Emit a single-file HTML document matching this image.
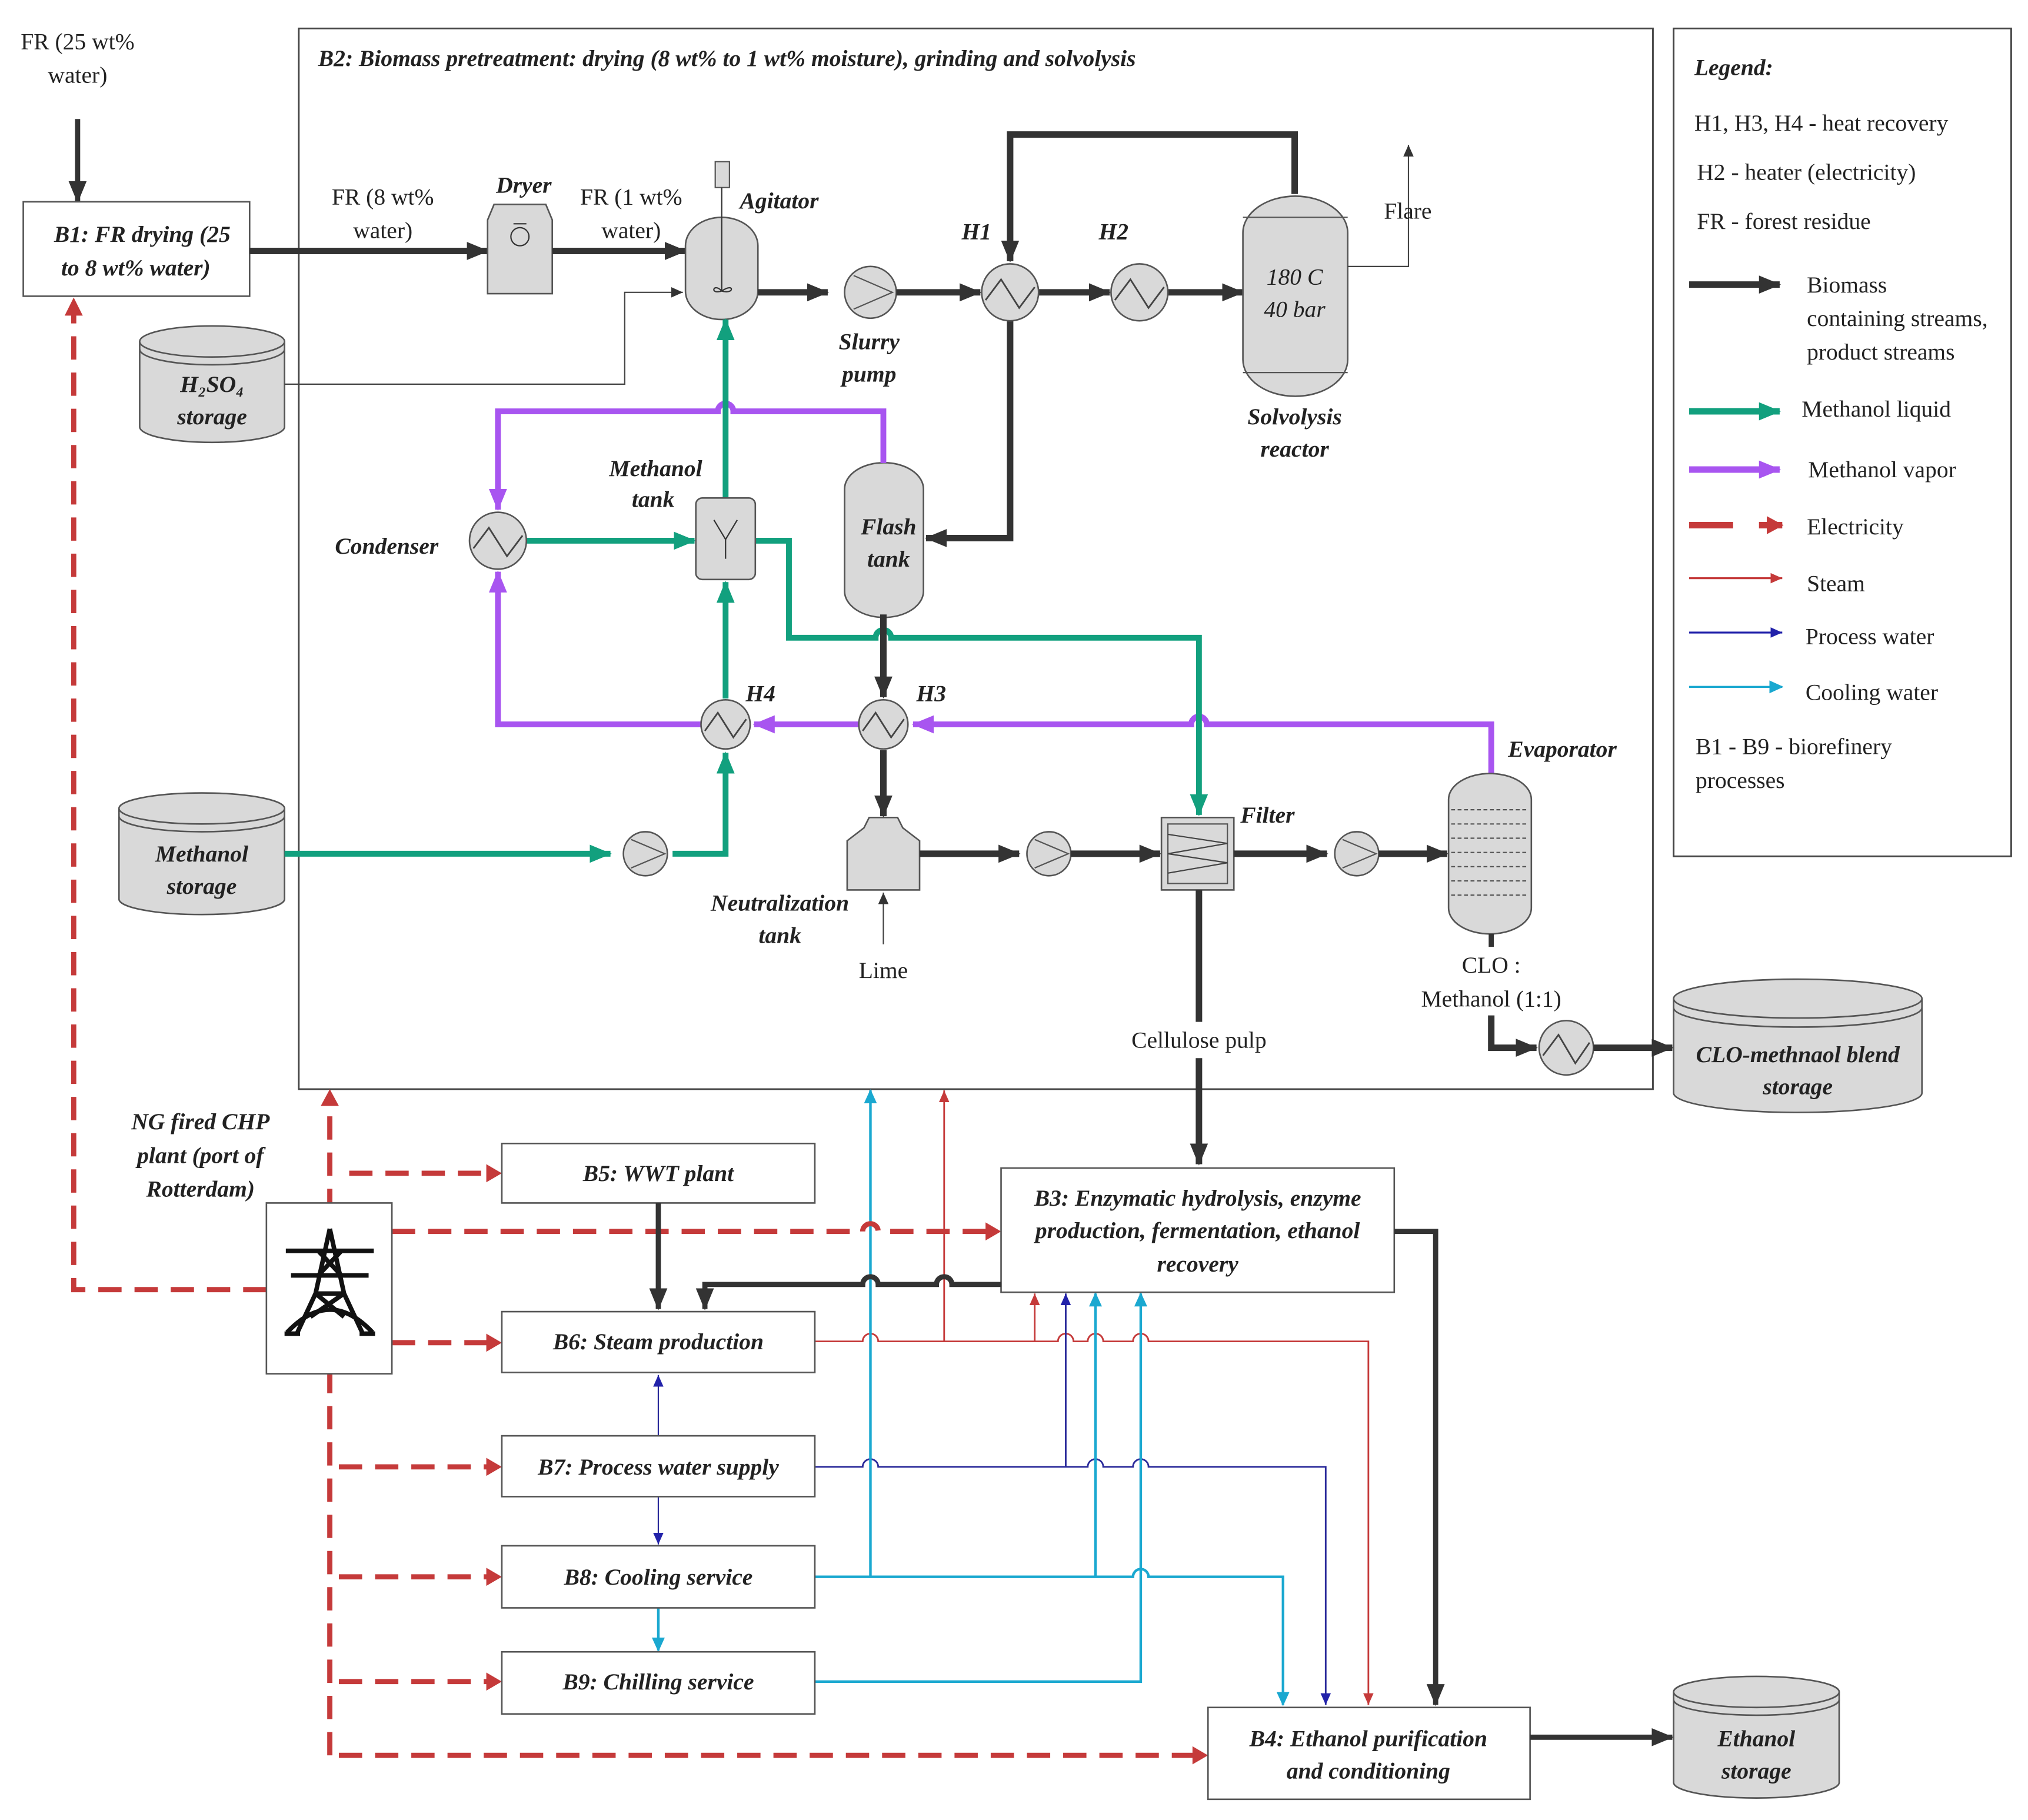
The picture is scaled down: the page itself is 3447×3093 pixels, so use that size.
<!DOCTYPE html>
<html><head><meta charset="utf-8">
<style>
html,body{margin:0;padding:0;background:#fff}
svg{display:block}
svg text{font-family:"Liberation Serif","DejaVu Serif",serif;fill:#222}
.l{font-style:italic;font-weight:bold;font-size:18px;font-family:"Liberation Serif","DejaVu Serif",serif}
.n{font-size:18px;font-family:"Liberation Serif","DejaVu Serif",serif}
</style></head><body>
<svg width="3447" height="3093" viewBox="0 0 1568 1407" preserveAspectRatio="none" xmlns="http://www.w3.org/2000/svg" font-family="Liberation Serif, DejaVu Serif, serif">
<defs>
<marker id="ak" markerUnits="userSpaceOnUse" markerWidth="18" markerHeight="16" refX="16" refY="8" orient="auto"><path d="M0,1 L17,8 L0,15 Z" fill="#333"/></marker>
<marker id="ag" markerUnits="userSpaceOnUse" markerWidth="18" markerHeight="16" refX="16" refY="8" orient="auto"><path d="M0,1 L17,8 L0,15 Z" fill="#12a07e"/></marker>
<marker id="ap" markerUnits="userSpaceOnUse" markerWidth="18" markerHeight="16" refX="16" refY="8" orient="auto"><path d="M0,1 L17,8 L0,15 Z" fill="#a855f0"/></marker>
<marker id="ar" markerUnits="userSpaceOnUse" markerWidth="14" markerHeight="14" refX="12" refY="7" orient="auto"><path d="M0,0 L13,7 L0,14 Z" fill="#c53a3a"/></marker>
<marker id="as" markerUnits="userSpaceOnUse" markerWidth="10" markerHeight="10" refX="9" refY="5" orient="auto"><path d="M0,1 L9,5 L0,9 Z" fill="#c53a3a"/></marker>
<marker id="ab" markerUnits="userSpaceOnUse" markerWidth="10" markerHeight="10" refX="9" refY="5" orient="auto"><path d="M0,1 L9,5 L0,9 Z" fill="#2222aa"/></marker>
<marker id="ac" markerUnits="userSpaceOnUse" markerWidth="12" markerHeight="12" refX="10" refY="6" orient="auto"><path d="M0,1 L11,6 L0,11 Z" fill="#1aa8d0"/></marker>
<marker id="at" markerUnits="userSpaceOnUse" markerWidth="10" markerHeight="10" refX="9" refY="5" orient="auto"><path d="M0,1 L9,5 L0,9 Z" fill="#333"/></marker>
</defs>

<rect x="231" y="22" width="1047" height="820" fill="none" stroke="#444" stroke-width="1.3"/>
<rect x="1294" y="22" width="261" height="640" fill="none" stroke="#444" stroke-width="1.3"/>
<text class="l" x="246" y="51" font-size="17">B2: Biomass pretreatment: drying (8 wt% to 1 wt% moisture), grinding and solvolysis</text>

<text class="l" x="1310" y="58">Legend:</text>
<text class="n" x="1310" y="101">H1, H3, H4 - heat recovery</text>
<text class="n" x="1312" y="139">H2 - heater (electricity)</text>
<text class="n" x="1312" y="177">FR - forest residue</text>
<line x1="1306" y1="220" x2="1376" y2="220" stroke="#333" stroke-width="5" marker-end="url(#ak)"/>
<text class="n" x="1397" y="226">Biomass</text>
<text class="n" x="1397" y="252">containing streams,</text>
<text class="n" x="1397" y="278">product streams</text>
<line x1="1306" y1="318" x2="1376" y2="318" stroke="#12a07e" stroke-width="5" marker-end="url(#ag)"/>
<text class="n" x="1393" y="322">Methanol liquid</text>
<line x1="1306" y1="363" x2="1376" y2="363" stroke="#a855f0" stroke-width="5" marker-end="url(#ap)"/>
<text class="n" x="1398" y="369">Methanol vapor</text>
<line x1="1306" y1="406" x2="1340" y2="406" stroke="#c53a3a" stroke-width="5"/>
<line x1="1360" y1="406" x2="1378" y2="406" stroke="#c53a3a" stroke-width="5" marker-end="url(#ar)"/>
<text class="n" x="1397" y="413">Electricity</text>
<line x1="1306" y1="447" x2="1378" y2="447" stroke="#c53a3a" stroke-width="1.5" marker-end="url(#as)"/>
<text class="n" x="1397" y="457">Steam</text>
<line x1="1306" y1="489" x2="1378" y2="489" stroke="#2222aa" stroke-width="1.5" marker-end="url(#ab)"/>
<text class="n" x="1396" y="498">Process water</text>
<line x1="1306" y1="531" x2="1378" y2="531" stroke="#1aa8d0" stroke-width="1.5" marker-end="url(#ac)"/>
<text class="n" x="1396" y="541">Cooling water</text>
<text class="n" x="1311" y="583">B1 - B9 - biorefinery</text>
<text class="n" x="1311" y="609">processes</text>

<text class="n" x="60" y="38" text-anchor="middle">FR (25 wt%</text>
<text class="n" x="60" y="64" text-anchor="middle">water)</text>
<line x1="60" y1="92" x2="60" y2="156" stroke="#333" stroke-width="4" marker-end="url(#ak)"/>
<rect x="18" y="156" width="175" height="73" fill="#fff" stroke="#555" stroke-width="1.2"/>
<text class="l" x="110" y="187" text-anchor="middle">B1: FR drying (25</text>
<text class="l" x="105" y="213" text-anchor="middle">to 8 wt% water)</text>

<g fill="#d9d9d9" stroke="#555" stroke-width="1.2">
<path d="M108,264 L108,330 A56,12 0 0 0 220,330 L220,264"/>
<ellipse cx="164" cy="264" rx="56" ry="12"/>
<path d="M108,270 A56,12 0 0 0 220,270" fill="none"/>
</g>
<text class="l" x="164" y="303" text-anchor="middle">H₂SO₄</text>
<text class="l" x="164" y="328" text-anchor="middle">storage</text>
<polyline points="220,297 483,297 483,226 528,226" fill="none" stroke="#444" stroke-width="1" marker-end="url(#at)"/>

<g fill="#d9d9d9" stroke="#555" stroke-width="1.2">
<path d="M92,625 L92,695 A64,12 0 0 0 220,695 L220,625"/>
<ellipse cx="156" cy="625" rx="64" ry="12"/>
<path d="M92,631 A64,12 0 0 0 220,631" fill="none"/>
</g>
<text class="l" x="156" y="666" text-anchor="middle">Methanol</text>
<text class="l" x="156" y="691" text-anchor="middle">storage</text>

<line x1="193" y1="194" x2="377" y2="194" stroke="#333" stroke-width="5" marker-end="url(#ak)"/>
<text class="n" x="296" y="158" text-anchor="middle">FR (8 wt%</text>
<text class="n" x="296" y="184" text-anchor="middle">water)</text>
<path d="M377,170 L382,158 L422,158 L427,170 L427,227 L377,227 Z" fill="#d9d9d9" stroke="#555" stroke-width="1.2"/>
<circle cx="402" cy="183" r="7" fill="none" stroke="#333"/>
<line x1="397" y1="173" x2="407" y2="173" stroke="#333"/>
<text class="l" x="405" y="149" text-anchor="middle">Dryer</text>
<line x1="427" y1="194" x2="530" y2="194" stroke="#333" stroke-width="5" marker-end="url(#ak)"/>
<text class="n" x="488" y="158" text-anchor="middle">FR (1 wt%</text>
<text class="n" x="488" y="184" text-anchor="middle">water)</text>
<path d="M530,190 A28,22 0 0 1 586,190 L586,225 A28,22 0 0 1 530,225 Z" fill="#d9d9d9" stroke="#555" stroke-width="1.2"/>
<rect x="553" y="125" width="11" height="20" fill="#d9d9d9" stroke="#555"/>
<line x1="558" y1="145" x2="558" y2="225" stroke="#333"/>
<path d="M558,225 C552,218 548,228 558,225 C568,218 568,228 558,225" fill="none" stroke="#333"/>
<text class="l" x="572" y="161">Agitator</text>
<line x1="586" y1="226" x2="640" y2="226" stroke="#333" stroke-width="5" marker-end="url(#ak)"/>
<circle cx="673" cy="226" r="20" fill="#d9d9d9" stroke="#555" stroke-width="1.2"/>
<path d="M660,213 L690,226 L660,239" fill="none" stroke="#555"/>
<text class="l" x="672" y="270" text-anchor="middle">Slurry</text>
<text class="l" x="672" y="295" text-anchor="middle">pump</text>
<line x1="693" y1="226" x2="758" y2="226" stroke="#333" stroke-width="5" marker-end="url(#ak)"/>
<line x1="803" y1="226" x2="858" y2="226" stroke="#333" stroke-width="5" marker-end="url(#ak)"/>
<line x1="903" y1="226" x2="961" y2="226" stroke="#333" stroke-width="5" marker-end="url(#ak)"/>
<text class="l" x="755" y="185" text-anchor="middle">H1</text>
<text class="l" x="861" y="185" text-anchor="middle">H2</text>
<path d="M961,180 A40,28 0 0 1 1042,180 L1042,278 A40,28 0 0 1 961,278 Z" fill="#d9d9d9" stroke="#555" stroke-width="1.2"/>
<line x1="961" y1="168" x2="1042" y2="168" stroke="#555"/>
<line x1="961" y1="288" x2="1042" y2="288" stroke="#555"/>
<text class="n" x="1001" y="220" text-anchor="middle" font-style="italic">180 C</text>
<text class="n" x="1001" y="245" text-anchor="middle" font-style="italic">40 bar</text>
<text class="l" x="1001" y="328" text-anchor="middle">Solvolysis</text>
<text class="l" x="1001" y="353" text-anchor="middle">reactor</text>
<polyline points="1042,206 1089,206 1089,112" fill="none" stroke="#444" stroke-width="1" marker-end="url(#at)"/>
<text class="n" x="1070" y="169">Flare</text>
<polyline points="1001,150 1001,104 781,104 781,202" fill="none" stroke="#333" stroke-width="5" marker-end="url(#ak)"/>
<polyline points="781,248 781,416 716,416" fill="none" stroke="#333" stroke-width="5" marker-end="url(#ak)"/>

<path d="M653,378 A30,20 0 0 1 714,378 L714,457 A30,20 0 0 1 653,457 Z" fill="#d9d9d9" stroke="#555" stroke-width="1.2"/>
<text class="l" x="687" y="413" text-anchor="middle">Flash</text>
<text class="l" x="687" y="438" text-anchor="middle">tank</text>

<path d="M683,358 L683,318 L567,318 a6,6 0 0 0 -12,0 L385,318 L385,394" fill="none" stroke="#a855f0" stroke-width="4.5" marker-end="url(#ap)"/>
<path d="M1153,598 L1153,560 L933,560 a6,6 0 0 0 -12,0 L706,560" fill="none" stroke="#a855f0" stroke-width="4.5" marker-end="url(#ap)"/>
<line x1="664" y1="560" x2="583" y2="560" stroke="#a855f0" stroke-width="4.5" marker-end="url(#ap)"/>
<polyline points="542,560 385,560 385,442" fill="none" stroke="#a855f0" stroke-width="4.5" marker-end="url(#ap)"/>

<polyline points="220,660 472,660" fill="none" stroke="#12a07e" stroke-width="4.5" marker-end="url(#ag)"/>
<polyline points="520,660 561,660 561,582" fill="none" stroke="#12a07e" stroke-width="4.5" marker-end="url(#ag)"/>
<line x1="561" y1="540" x2="561" y2="450" stroke="#12a07e" stroke-width="4.5" marker-end="url(#ag)"/>
<line x1="561" y1="385" x2="561" y2="247" stroke="#12a07e" stroke-width="4.5" marker-end="url(#ag)"/>
<line x1="407" y1="418" x2="537" y2="418" stroke="#12a07e" stroke-width="4.5" marker-end="url(#ag)"/>
<path d="M584,418 L610,418 L610,493 L677,493 a6,6 0 0 1 12,0 L927,493 L927,630" fill="none" stroke="#12a07e" stroke-width="4.5" marker-end="url(#ag)"/>

<circle cx="385" cy="418" r="22" fill="#d9d9d9" stroke="#555" stroke-width="1.2"/>
<path d="M366,424 L378,408 L392,430 L404,414" fill="none" stroke="#444" stroke-width="1.3"/>
<text class="l" x="299" y="428" text-anchor="middle">Condenser</text>
<rect x="538" y="385" width="46" height="63" rx="5" fill="#d9d9d9" stroke="#555" stroke-width="1.2"/>
<path d="M552,402 L561,417 L570,402 M561,417 L561,432" fill="none" stroke="#333"/>
<text class="l" x="507" y="368" text-anchor="middle">Methanol</text>
<text class="l" x="505" y="392" text-anchor="middle">tank</text>

<circle cx="781" cy="226" r="22" fill="#d9d9d9" stroke="#555" stroke-width="1.2"/>
<path d="M762,232 L774,216 L788,238 L800,222" fill="none" stroke="#444" stroke-width="1.3"/>
<circle cx="881" cy="226" r="22" fill="#d9d9d9" stroke="#555" stroke-width="1.2"/>
<path d="M862,232 L874,216 L888,238 L900,222" fill="none" stroke="#444" stroke-width="1.3"/>

<line x1="683" y1="475" x2="683" y2="539" stroke="#333" stroke-width="5" marker-end="url(#ak)"/>
<line x1="683" y1="580" x2="683" y2="631" stroke="#333" stroke-width="5" marker-end="url(#ak)"/>
<circle cx="683" cy="560" r="19" fill="#d9d9d9" stroke="#555" stroke-width="1.2"/>
<path d="M667,565 L677,551 L689,570 L699,556" fill="none" stroke="#444" stroke-width="1.3"/>
<circle cx="561" cy="560" r="19" fill="#d9d9d9" stroke="#555" stroke-width="1.2"/>
<path d="M545,565 L555,551 L567,570 L577,556" fill="none" stroke="#444" stroke-width="1.3"/>
<text class="l" x="588" y="542" text-anchor="middle">H4</text>
<text class="l" x="720" y="542" text-anchor="middle">H3</text>
<circle cx="499" cy="660" r="17" fill="#d9d9d9" stroke="#555" stroke-width="1.2"/>
<path d="M488,649 L514,660 L488,671" fill="none" stroke="#555"/>

<path d="M655,650 L668,640 L672,632 L694,632 L698,640 L711,650 L711,688 L655,688 Z" fill="#d9d9d9" stroke="#555" stroke-width="1.2"/>
<text class="l" x="603" y="704" text-anchor="middle">Neutralization</text>
<text class="l" x="603" y="729" text-anchor="middle">tank</text>
<line x1="683" y1="730" x2="683" y2="690" stroke="#444" stroke-width="1" marker-end="url(#at)"/>
<text class="n" x="683" y="756" text-anchor="middle">Lime</text>
<line x1="711" y1="660" x2="788" y2="660" stroke="#333" stroke-width="5" marker-end="url(#ak)"/>
<circle cx="811" cy="660" r="17" fill="#d9d9d9" stroke="#555" stroke-width="1.2"/>
<path d="M800,649 L826,660 L800,671" fill="none" stroke="#555"/>
<line x1="828" y1="660" x2="897" y2="660" stroke="#333" stroke-width="5" marker-end="url(#ak)"/>
<rect x="898" y="632" width="56" height="56" fill="#d9d9d9" stroke="#555" stroke-width="1.2"/>
<rect x="903" y="637" width="46" height="46" fill="none" stroke="#555"/>
<path d="M903,645 L949,652 L903,660 L949,667 L903,675" fill="none" stroke="#444"/>
<text class="l" x="959" y="636">Filter</text>
<line x1="954" y1="660" x2="1026" y2="660" stroke="#333" stroke-width="5" marker-end="url(#ak)"/>
<circle cx="1049" cy="660" r="17" fill="#d9d9d9" stroke="#555" stroke-width="1.2"/>
<path d="M1038,649 L1064,660 L1038,671" fill="none" stroke="#555"/>
<line x1="1066" y1="660" x2="1119" y2="660" stroke="#333" stroke-width="5" marker-end="url(#ak)"/>
<path d="M1120,618 A32,20 0 0 1 1184,618 L1184,702 A32,20 0 0 1 1120,702 Z" fill="#d9d9d9" stroke="#555" stroke-width="1.2"/>
<g stroke="#555" stroke-dasharray="3,2">
<line x1="1122" y1="626" x2="1182" y2="626"/><line x1="1122" y1="637" x2="1182" y2="637"/>
<line x1="1122" y1="648" x2="1182" y2="648"/><line x1="1122" y1="659" x2="1182" y2="659"/>
<line x1="1122" y1="670" x2="1182" y2="670"/><line x1="1122" y1="681" x2="1182" y2="681"/>
<line x1="1122" y1="692" x2="1182" y2="692"/>
</g>
<text class="l" x="1166" y="585">Evaporator</text>
<line x1="1153" y1="722" x2="1153" y2="732" stroke="#333" stroke-width="4"/>
<text class="n" x="1153" y="752" text-anchor="middle">CLO :</text>
<text class="n" x="1153" y="778" text-anchor="middle">Methanol (1:1)</text>
<polyline points="1153,785 1153,810 1188,810" fill="none" stroke="#333" stroke-width="5" marker-end="url(#ak)"/>
<circle cx="1211" cy="810" r="21" fill="#d9d9d9" stroke="#555" stroke-width="1.2"/>
<path d="M1193,816 L1205,800 L1218,822 L1229,806" fill="none" stroke="#444" stroke-width="1.3"/>
<line x1="1232" y1="810" x2="1293" y2="810" stroke="#333" stroke-width="5" marker-end="url(#ak)"/>
<g fill="#d9d9d9" stroke="#555" stroke-width="1.2">
<path d="M1294,772 L1294,845 A96,15 0 0 0 1486,845 L1486,772"/>
<ellipse cx="1390" cy="772" rx="96" ry="15"/>
<path d="M1294,779 A96,15 0 0 0 1486,779" fill="none"/>
</g>
<text class="l" x="1390" y="821" text-anchor="middle">CLO-methnaol blend</text>
<text class="l" x="1390" y="846" text-anchor="middle">storage</text>

<line x1="927" y1="688" x2="927" y2="790" stroke="#333" stroke-width="5"/>
<text class="n" x="927" y="810" text-anchor="middle">Cellulose pulp</text>
<line x1="927" y1="818" x2="927" y2="900" stroke="#333" stroke-width="5" marker-end="url(#ak)"/>

<path d="M630,1037 L667,1037 a6,6 0 0 1 12,0 L818,1037 a6,6 0 0 1 12,0 L841,1037 a6,6 0 0 1 12,0 L876,1037 a6,6 0 0 1 12,0 L1058,1037 L1058,1318" fill="none" stroke="#c53a3a" stroke-width="1.3" marker-end="url(#as)"/>
<line x1="730" y1="1037" x2="730" y2="843" stroke="#c53a3a" stroke-width="1.3" marker-end="url(#as)"/>
<line x1="800" y1="1037" x2="800" y2="1000" stroke="#c53a3a" stroke-width="1.3" marker-end="url(#as)"/>
<path d="M630,1134 L667,1134 a6,6 0 0 1 12,0 L841,1134 a6,6 0 0 1 12,0 L876,1134 a6,6 0 0 1 12,0 L1025,1134 L1025,1318" fill="none" stroke="#2a2a9a" stroke-width="1.3" marker-end="url(#ab)"/>
<line x1="824" y1="1134" x2="824" y2="1000" stroke="#2a2a9a" stroke-width="1.3" marker-end="url(#ab)"/>
<line x1="509" y1="1110" x2="509" y2="1063" stroke="#2a2a9a" stroke-width="1" marker-end="url(#ab)"/>
<line x1="509" y1="1157" x2="509" y2="1194" stroke="#2a2a9a" stroke-width="1" marker-end="url(#ab)"/>
<path d="M630,1219 L876,1219 a6,6 0 0 1 12,0 L992,1219 L992,1318" fill="none" stroke="#1aa8d0" stroke-width="2" marker-end="url(#ac)"/>
<line x1="673" y1="1219" x2="673" y2="843" stroke="#1aa8d0" stroke-width="2" marker-end="url(#ac)"/>
<line x1="847" y1="1219" x2="847" y2="1000" stroke="#1aa8d0" stroke-width="2" marker-end="url(#ac)"/>
<polyline points="630,1300 882,1300 882,1000" fill="none" stroke="#1aa8d0" stroke-width="2" marker-end="url(#ac)"/>
<line x1="509" y1="1243" x2="509" y2="1276" stroke="#1aa8d0" stroke-width="2" marker-end="url(#ac)"/>

<g stroke="#c53a3a" stroke-width="4" stroke-dasharray="18,10" fill="none">
<polyline points="206,997 57,997 57,240"/>
<line x1="255" y1="1357" x2="255" y2="852"/>
<line x1="270" y1="907" x2="380" y2="907"/>
<path d="M303,952 L667,952 a6,6 0 0 1 12,0 L765,952"/>
<line x1="303" y1="1038" x2="380" y2="1038"/>
<line x1="262" y1="1134" x2="380" y2="1134"/>
<line x1="262" y1="1219" x2="380" y2="1219"/>
<line x1="262" y1="1300" x2="380" y2="1300"/>
<line x1="262" y1="1357" x2="925" y2="1357"/>
</g>
<g fill="#c53a3a">
<path d="M50,244 L57,230 L64,244 Z"/>
<path d="M248,855 L255,842 L262,855 Z"/>
<path d="M376,900 L388,907 L376,914 Z"/>
<path d="M762,945 L774,952 L762,959 Z"/>
<path d="M376,1031 L388,1038 L376,1045 Z"/>
<path d="M376,1127 L388,1134 L376,1141 Z"/>
<path d="M376,1212 L388,1219 L376,1226 Z"/>
<path d="M376,1293 L388,1300 L376,1307 Z"/>
<path d="M922,1350 L934,1357 L922,1364 Z"/>
</g>

<text class="l" x="155" y="873" text-anchor="middle">NG fired CHP</text>
<text class="l" x="155" y="899" text-anchor="middle">plant (port of</text>
<text class="l" x="155" y="925" text-anchor="middle">Rotterdam)</text>
<rect x="206" y="930" width="97" height="132" fill="#fff" stroke="#555" stroke-width="1.2"/>
<g stroke="#111" stroke-width="3.5" fill="none">
<line x1="221" y1="967" x2="289" y2="967"/>
<line x1="225" y1="986" x2="285" y2="986"/>
<path d="M255,950 L244,1000 L230,1030 M255,950 L266,1000 L280,1030"/>
<path d="M246,967 L264,986 M264,967 L246,986 M244,1000 L266,1000 M244,1000 L266,1018 M266,1000 L240,1018"/>
<path d="M222,1030 Q255,995 288,1030"/>
<line x1="220" y1="1031" x2="232" y2="1031"/><line x1="278" y1="1031" x2="290" y2="1031"/>
</g>

<g fill="#fff" stroke="#555" stroke-width="1.2">
<rect x="388" y="884" width="242" height="46"/>
<rect x="388" y="1014" width="242" height="47"/>
<rect x="388" y="1110" width="242" height="47"/>
<rect x="388" y="1195" width="242" height="48"/>
<rect x="388" y="1277" width="242" height="48"/>
<rect x="774" y="903" width="304" height="96"/>
<rect x="934" y="1320" width="249" height="71"/>
</g>
<text class="l" x="509" y="913" text-anchor="middle">B5: WWT plant</text>
<text class="l" x="509" y="1043" text-anchor="middle">B6: Steam production</text>
<text class="l" x="509" y="1140" text-anchor="middle">B7: Process water supply</text>
<text class="l" x="509" y="1225" text-anchor="middle">B8: Cooling service</text>
<text class="l" x="509" y="1306" text-anchor="middle">B9: Chilling service</text>
<text class="l" x="926" y="932" text-anchor="middle">B3: Enzymatic hydrolysis, enzyme</text>
<text class="l" x="926" y="957" text-anchor="middle">production, fermentation, ethanol</text>
<text class="l" x="926" y="983" text-anchor="middle">recovery</text>
<text class="l" x="1058" y="1350" text-anchor="middle">B4: Ethanol purification</text>
<text class="l" x="1058" y="1375" text-anchor="middle">and conditioning</text>

<line x1="509" y1="930" x2="509" y2="1012" stroke="#333" stroke-width="4" marker-end="url(#ak)"/>
<path d="M774,993 L736,993 a6,6 0 0 0 -12,0 L679,993 a6,6 0 0 0 -12,0 L545,993 L545,1012" fill="none" stroke="#333" stroke-width="4" marker-end="url(#ak)"/>
<polyline points="1078,952 1110,952 1110,1318" fill="none" stroke="#333" stroke-width="4" marker-end="url(#ak)"/>
<line x1="1183" y1="1343" x2="1293" y2="1343" stroke="#333" stroke-width="4" marker-end="url(#ak)"/>

<g fill="#d9d9d9" stroke="#555" stroke-width="1.2">
<path d="M1294,1308 L1294,1378 A64,12 0 0 0 1422,1378 L1422,1308"/>
<ellipse cx="1358" cy="1308" rx="64" ry="12"/>
<path d="M1294,1314 A64,12 0 0 0 1422,1314" fill="none"/>
</g>
<text class="l" x="1358" y="1350" text-anchor="middle">Ethanol</text>
<text class="l" x="1358" y="1375" text-anchor="middle">storage</text>
</svg>
</body></html>
